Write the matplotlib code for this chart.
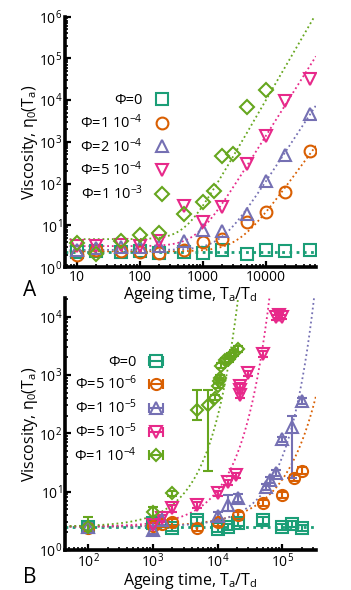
import numpy as np
import matplotlib
matplotlib.use("Agg")
import matplotlib.pyplot as plt
from matplotlib.ticker import FixedLocator, LogLocator, NullFormatter

plt.rcParams['font.family'] = ['Open Sans', 'DejaVu Sans']
plt.rcParams['mathtext.fontset'] = 'custom'
plt.rcParams['mathtext.rm'] = 'Open Sans'
plt.rcParams['mathtext.it'] = 'Open Sans:italic'

# colours of the five concentrations (same in both panels)
colors = ['#1b9e77', '#d95f02', '#7570b3', '#e7298a', '#66a61e']
markers = ['s', 'o', '^', 'v', 'D']

# ---------------- panel A data ----------------
labels_A = ['Φ=0', 'Φ=1 10$^{-4}$', 'Φ=2 10$^{-4}$', 'Φ=5 10$^{-4}$', 'Φ=1 10$^{-3}$']
x_A = [10, 20, 50, 100, 200, 500, 1000, 2000, 5000, 10000, 20000, 50000]
x_A_green = [10, 20, 50, 100, 200, 500, 1000, 1500, 2000, 3000, 5000, 10000]
eta_A_phi0 = [2.3, 2.5, 2.3, 2.4, 2.2, 2.3, 2.2, 2.6, 2.1, 2.6, 2.4, 2.6]
eta_A_phi1e4 = [2.0, 2.6, 2.5, 2.3, 2.2, 2.6, 4.0, 4.7, 12, 21, 63, 600]
eta_A_phi2e4 = [2.6, 2.9, 3.0, 3.0, 3.2, 4.3, 8.0, 7.3, 19, 115, 490, 4700]
eta_A_phi5e4 = [3.2, 3.3, 3.5, 3.2, 4.2, 29, 12, 27, 295, 1400, 9500, 32000]
eta_A_phi1e3 = [3.8, 2.1, 4.2, 5.8, 6.5, 18.5, 36, 66, 460, 510, 6900, 17500]

# fit lines A: eta0 * (1 + (T/tau)^p)
fitA_eta0 = [2.3, 2.4, 2.6, 3.2, 4.7]
fitA_tau = [None, 3700, 1950, 794, 525]
fitA_p = [None, 2.06, 2.3, 2.4, 2.6]

# ---------------- panel B data ----------------
labels_B = ['Φ=0', 'Φ=5 10$^{-6}$', 'Φ=1 10$^{-5}$', 'Φ=5 10$^{-5}$', 'Φ=1 10$^{-4}$']
x_B_phi0 = [100, 1000, 2000, 4800, 10000, 14500, 21000, 50000, 100000, 140000, 200000]
eta_B_phi0 = [2.5, 2.9, 2.4, 3.2, 2.3, 2.5, 2.9, 3.2, 2.5, 2.8, 2.4]
err_B_phi0 = [0.3, 0.4, 0.3, 0.4, 0.3, 0.3, 0.3, 0.4, 0.3, 0.3, 0.3]

x_B_phi5e6 = [100, 1000, 1400, 2000, 4800, 10000, 21000, 50000, 100000, 150000, 200000]
eta_B_phi5e6 = [2.4, 2.6, 2.8, 3.0, 2.4, 3.0, 4.0, 6.4, 8.7, 17, 23]
err_B_phi5e6 = [0.3, 0.3, 0.3, 0.4, 0.3, 0.4, 0.5, 0.8, 1.0, 2.0, 3.0]

x_B_phi1e5 = [100, 1000, 1400, 10000, 14500, 21000, 55000, 65000, 80000, 100000, 140000, 200000]
eta_B_phi1e5 = [2.5, 2.2, 3.3, 3.8, 5.9, 7.7, 12, 16, 21, 80, 130, 360]
errlo_B_phi1e5 = [0.3, 0.3, 0.6, 0.5, 1.2, 1.0, 1.5, 2.0, 2.5, 8, 113, 40]
errhi_B_phi1e5 = [0.4, 0.3, 1.2, 0.6, 2.8, 1.5, 1.5, 2.0, 2.5, 8, 70, 40]

x_B_phi5e5 = [1000, 1400, 2000, 4800, 10000, 14500, 19000, 22000, 22000, 22000, 29000,
              50000, 80000, 90000, 100000]
eta_B_phi5e5 = [2.7, 3.5, 5.2, 5.9, 9.4, 14.5, 19, 660, 550, 450, 1070,
                2300, 9800, 10500, 10000]
err_B_phi5e5 = [0.3, 0.5, 0.8, 0.6, 1.0, 1.5, 2.0, 60, 50, 40, 100,
                250, 900, 900, 900]

x_B_phi1e4 = [100, 1000, 2000, 4900, 7000, 9200, 10000, 10500, 11000, 11500,
              13000, 15000, 16000, 18000, 21000]
eta_B_phi1e4 = [2.5, 4.5, 9.4, 250, 300, 410, 660, 800, 900, 1450,
                1780, 1900, 2150, 2400, 2800]
errlo_B_phi1e4 = [0.5, 1.0, 1.0, 84, 277, 40, 60, 80, 90, 150, 200, 200, 250, 250, 300]
errhi_B_phi1e4 = [1.2, 0.9, 1.0, 300, 250, 40, 60, 80, 90, 150, 200, 200, 250, 250, 400]

# fit lines B: eta0 * exp((T/tau)^beta)
fitB_eta0 = 2.5
fitB_tau = [None, 48000, 38000, 7000, 2300]
fitB_beta = [None, 0.85, 1.05, 1.0, 1.0]

fig = plt.figure(figsize=(3.51, 5.90), dpi=100)
axA = fig.add_axes([0.185, 0.547, 0.715, 0.425])
axB = fig.add_axes([0.185, 0.068, 0.715, 0.427])

dot = (0, (1, 1.6))
xlabel = 'Ageing time, T$_\\mathrm{a}$/T$_\\mathrm{d}$'
ylabel = 'Viscosity, η$_\\mathrm{0}$(T$_\\mathrm{a}$)'


def style_axes(ax):
    ax.set_xscale('log')
    ax.set_yscale('log')
    for s in ['top', 'right']:
        ax.spines[s].set_visible(False)
    for s in ['left', 'bottom']:
        ax.spines[s].set_linewidth(2.6)
    ax.tick_params(which='major', direction='in', length=4, width=1.6, labelsize=10, pad=2)
    ax.tick_params(which='minor', direction='in', length=2.5, width=1.2)
    ax.patch.set_alpha(0)


# ---------------- panel A ----------------
style_axes(axA)
tgrid = np.logspace(np.log10(6.5), np.log10(62000), 300)
for i in range(5):
    if fitA_tau[i] is None:
        fit = np.full_like(tgrid, fitA_eta0[i])
    else:
        fit = fitA_eta0[i] * (1 + (tgrid / fitA_tau[i]) ** fitA_p[i])
    axA.plot(tgrid, fit, color=colors[i], lw=1.3 if i else 2.0, ls=dot, zorder=1)

seriesA = [(x_A, eta_A_phi0), (x_A, eta_A_phi1e4), (x_A, eta_A_phi2e4),
           (x_A, eta_A_phi5e4), (x_A_green, eta_A_phi1e3)]
handlesA = []
for i, (xs, ys) in enumerate(seriesA):
    ms = 7 if markers[i] == 'D' else 8.5
    h, = axA.plot(xs, ys, ls='none', marker=markers[i], ms=ms, mfc='none',
                  mec=colors[i], mew=1.5, label=labels_A[i], zorder=3)
    handlesA.append(h)

axA.set_xlim(6.5, 62000)
axA.set_ylim(1, 1e6)
axA.xaxis.set_major_locator(FixedLocator([10, 100, 1000, 10000]))
axA.set_xticklabels(['10', '100', '1000', '10000'])
axA.xaxis.set_minor_locator(LogLocator(base=10, subs=np.arange(2, 10), numticks=20))
axA.xaxis.set_minor_formatter(NullFormatter())
axA.yaxis.set_major_locator(FixedLocator([1, 10, 100, 1e3, 1e4, 1e5, 1e6]))
axA.set_yticklabels(['10$^{%d}$' % k for k in range(7)])
axA.yaxis.set_minor_locator(LogLocator(base=10, subs=np.arange(2, 10), numticks=20))
axA.yaxis.set_minor_formatter(NullFormatter())
axA.set_xlabel(xlabel, fontsize=11.5, labelpad=0)
axA.set_ylabel(ylabel, fontsize=11.5, labelpad=-1)
axA.legend(handles=handlesA, loc='upper right', bbox_to_anchor=(0.455, 0.735),
           frameon=False, markerfirst=False, fontsize=10.5, handlelength=1.0,
           handletextpad=0.8, labelspacing=0.35, borderpad=0.2)

# ---------------- panel B ----------------
style_axes(axB)
tgridB = np.logspace(np.log10(44), np.log10(3.3e5), 400)
for i in range(5):
    if fitB_tau[i] is None:
        fit = np.full_like(tgridB, fitB_eta0)
    else:
        fit = fitB_eta0 * np.exp((tgridB / fitB_tau[i]) ** fitB_beta[i])
    axB.plot(tgridB, fit, color=colors[i], lw=1.3 if i else 2.0, ls=dot, zorder=1)

seriesB = [(x_B_phi0, eta_B_phi0, [err_B_phi0, err_B_phi0]),
           (x_B_phi5e6, eta_B_phi5e6, [err_B_phi5e6, err_B_phi5e6]),
           (x_B_phi1e5, eta_B_phi1e5, [errlo_B_phi1e5, errhi_B_phi1e5]),
           (x_B_phi5e5, eta_B_phi5e5, [err_B_phi5e5, err_B_phi5e5]),
           (x_B_phi1e4, eta_B_phi1e4, [errlo_B_phi1e4, errhi_B_phi1e4])]
handlesB = []
for i, (xs, ys, err) in enumerate(seriesB):
    ms = 6.5 if markers[i] == 'D' else 8
    axB.errorbar(xs, ys, yerr=err, ls='none', marker=markers[i], ms=ms, mfc='none',
                 mec=colors[i], mew=1.5, ecolor=colors[i], elinewidth=1.5,
                 capsize=3.5, capthick=1.5, zorder=3)
    # legend handle drawn with a horizontal bar, as in the original
    h = axB.errorbar([np.nan], [np.nan], xerr=[1], ls='none', marker=markers[i], ms=ms,
                     mfc='none', mec=colors[i], mew=1.5, ecolor=colors[i],
                     elinewidth=1.5, capsize=3.5, capthick=1.5, label=labels_B[i])
    handlesB.append(h)

axB.set_xlim(44, 3.3e5)
axB.set_ylim(1, 2.1e4)
axB.xaxis.set_major_locator(FixedLocator([1e2, 1e3, 1e4, 1e5]))
axB.set_xticklabels(['10$^{%d}$' % k for k in range(2, 6)])
axB.xaxis.set_minor_locator(LogLocator(base=10, subs=np.arange(2, 10), numticks=20))
axB.xaxis.set_minor_formatter(NullFormatter())
axB.yaxis.set_major_locator(FixedLocator([1, 10, 100, 1e3, 1e4]))
axB.set_yticklabels(['10$^{%d}$' % k for k in range(5)])
axB.yaxis.set_minor_locator(LogLocator(base=10, subs=np.arange(2, 10), numticks=20))
axB.yaxis.set_minor_formatter(NullFormatter())
axB.set_xlabel(xlabel, fontsize=11.5, labelpad=0)
axB.set_ylabel(ylabel, fontsize=11.5, labelpad=-1)
axB.legend(handles=handlesB, loc='upper right', bbox_to_anchor=(0.45, 0.815),
           frameon=False, markerfirst=False, fontsize=10.5, handlelength=1.6,
           handletextpad=0.5, labelspacing=0.35, borderpad=0.2)

fig.text(0.085, 0.507, 'A', fontsize=15, ha='center', va='center')
fig.text(0.085, 0.022, 'B', fontsize=15, ha='center', va='center')

fig.savefig('out.png', dpi=100)
